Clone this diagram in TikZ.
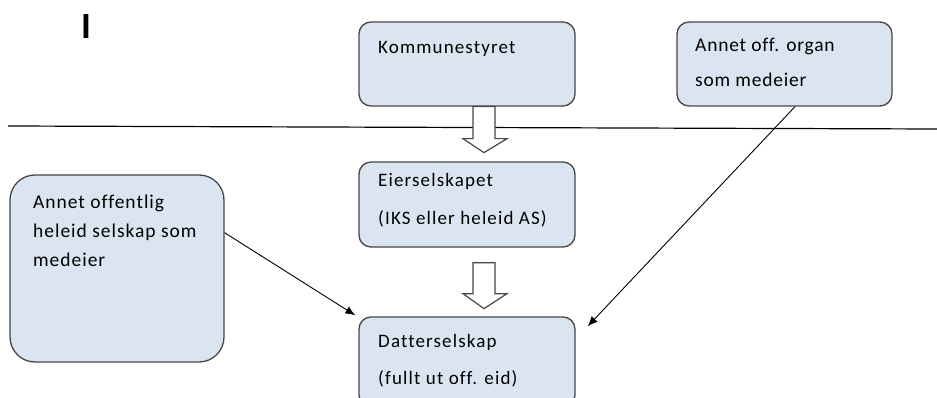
\documentclass[tikz,border=0pt]{standalone}
\usepackage{fontspec}
\setmainfont[Ligatures=NoCommon]{Carlito}
\newfontfamily\widefont[LetterSpace=6, Ligatures=NoCommon]{Carlito}
\newfontfamily\midfont[LetterSpace=4, Ligatures=NoCommon]{Carlito}
\newfontfamily\tightfont[LetterSpace=5, Ligatures=NoCommon]{Carlito}
\usetikzlibrary{arrows.meta, calc}

\definecolor{boxfill}{RGB}{219,229,241}
\definecolor{boxline}{RGB}{70,70,70}

\tikzset{
	box/.style={draw=boxline, fill=boxfill, line width=1.3pt, rounded corners=12pt},
	txt/.style={anchor=north west, inner sep=0pt, align=left},
	blockarrow/.style={draw=boxline, fill=white, line width=1.2pt, line join=miter},
	link/.style={->, line width=0.9pt, >={Latex[length=10pt,width=8pt]}},
}

\begin{document}
\begin{tikzpicture}[x=1pt, y=-1pt]
	\useasboundingbox (0,0) rectangle (937,398);
	% dividing line
	\draw[line width=1.2pt] (8,126) -- (937,129);
	\node[txt, font={\bfseries\fontsize{37}{37}\selectfont}] (cursor) at (81,14) {I};
	% boxes
	\node[box, minimum width=216pt, minimum height=84pt] (komm) at (467,64) {};
	\node[box, minimum width=215pt, minimum height=84pt] (organ) at (784.5,64) {};
	\node[box, minimum width=216pt, minimum height=85pt] (eier) at (467,204.5) {};
	\node[box, minimum width=216pt, minimum height=90pt] (datter) at (467,362) {};
	\node[box, rounded corners=25pt,
	minimum width=214pt, minimum height=187pt
	] (annet) at (117,268.5) {};
	% texts
	\node[txt, font={\widefont\fontsize{19}{35}\selectfont}] (kommtxt) at (378,41) {Kommunestyret};
	\node[txt, font={\midfont\fontsize{19.5}{35}\selectfont}] (organtxt) at (695,38) {Annet off. organ\\som medeier};
	\node[txt, font={\widefont\fontsize{19}{38}\selectfont}] (eiertxt) at (378,173) {Eierselskapet\\(IKS eller heleid AS)};
	\node[txt, font={\widefont\fontsize{19}{37}\selectfont}] (dattertxt) at (378,334) {Datterselskap\\(fullt ut off. eid)};
	\node[txt, font={\tightfont\fontsize{19.5}{29}\selectfont}] (annettxt) at (33,195) {Annet offentlig\\heleid selskap som\\medeier};
	% block arrows
	\coordinate (arr1) at ([xshift=17pt]komm.south);
	\coordinate (arr2) at ([xshift=17pt, yshift=-15pt]eier.south);
	\draw[blockarrow] (arr1) ++(-11,0) -- ++(0,32) -- ++(-10,0) -- ++(21,14)
	-- ++(23,-14) -- ++(-12,0) -- ++(0,-32) -- cycle;
	\draw[blockarrow] (arr2) ++(-11,0) -- ++(0,31) -- ++(-10,0) -- ++(21,15)
	-- ++(23,-15) -- ++(-12,0) -- ++(0,-31) -- cycle;
	% owners
	\draw[link] ($(annet.north east)!0.31!(annet.south east)$) -- ([shift={(-3,-1)}]datter.north west);
	\draw[link] ([xshift=10.5pt]organ.south) -- ([shift={(12,10)}]datter.north east);
\end{tikzpicture}
\end{document}
